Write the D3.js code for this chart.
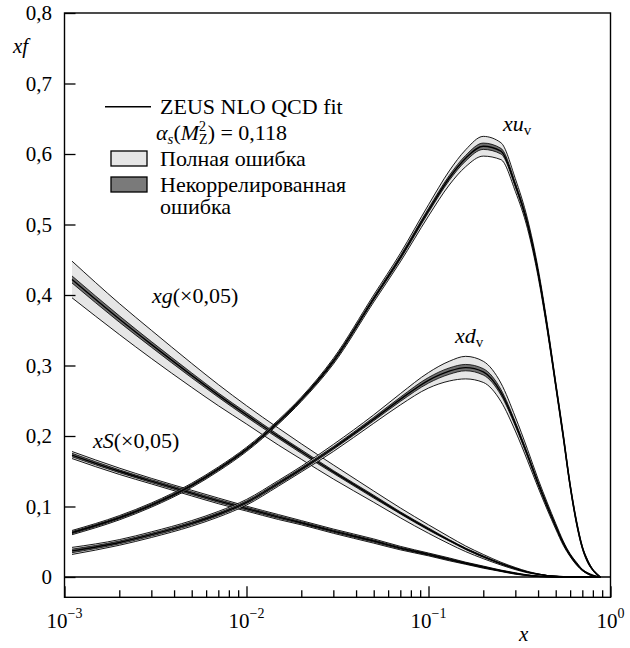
<!DOCTYPE html>
<html>
<head>
<meta charset="utf-8">
<script src="https://cdn.jsdelivr.net/npm/d3@7"></script>
<style>
  body { margin: 0; background: #fff; }
</style>
</head>
<body>
<div id="chart"></div>
<script>
// x grid shared by all distributions
var xGrid = [0.0011, 0.002, 0.003, 0.005, 0.007, 0.01, 0.015, 0.02, 0.03, 0.05, 0.07, 0.1, 0.13, 0.16, 0.2,
             0.25, 0.3, 0.35, 0.4, 0.45, 0.5, 0.55, 0.6, 0.65, 0.7, 0.75, 0.8, 0.85, 0.88];

// xu_v : central value, total error, uncorrelated error
var xuvMid = [0.063, 0.084, 0.102, 0.130, 0.153, 0.181, 0.220, 0.252, 0.306, 0.395, 0.453, 0.520, 0.566, 0.594, 0.611,
              0.604, 0.556, 0.501, 0.432, 0.353, 0.273, 0.200, 0.130, 0.078, 0.042, 0.022, 0.010, 0.003, 0];
var xuvTot = [0.003, 0.003, 0.003, 0.003, 0.003, 0.003, 0.003, 0.003, 0.004, 0.005, 0.006, 0.008, 0.010, 0.012, 0.014,
              0.012, 0.009, 0.007, 0.006, 0.005, 0.004, 0.004, 0.003, 0.003, 0.002, 0.002, 0.001, 0.001, 0];
var xuvUnc = [0.0015, 0.0015, 0.0015, 0.0015, 0.0015, 0.0015, 0.0015, 0.0015, 0.002, 0.002, 0.0025, 0.003, 0.0035, 0.004, 0.0045,
              0.004, 0.003, 0.0025, 0.002, 0.002, 0.0015, 0.0015, 0.0015, 0.001, 0.001, 0.001, 0.0005, 0.0005, 0];

// xd_v
var xdvMid = [0.037, 0.049, 0.060, 0.076, 0.089, 0.106, 0.133, 0.153, 0.183, 0.224, 0.252, 0.279, 0.292, 0.297, 0.291,
              0.262, 0.217, 0.173, 0.133, 0.100, 0.072, 0.048, 0.031, 0.019, 0.010, 0.005, 0.002, 0.0005, 0];
var xdvTot = [0.005, 0.004, 0.004, 0.004, 0.004, 0.004, 0.004, 0.004, 0.005, 0.006, 0.008, 0.011, 0.014, 0.016, 0.015,
              0.013, 0.010, 0.008, 0.006, 0.005, 0.004, 0.003, 0.002, 0.002, 0.001, 0.001, 0.001, 0, 0];
var xdvUnc = [0.0025, 0.002, 0.002, 0.002, 0.002, 0.002, 0.002, 0.002, 0.002, 0.0025, 0.003, 0.004, 0.0045, 0.0045, 0.0045,
              0.004, 0.003, 0.0025, 0.002, 0.002, 0.0015, 0.001, 0.001, 0.001, 0.0005, 0.0005, 0, 0, 0];

// xg (x0.05)
var xgMid = [0.422, 0.366, 0.330, 0.286, 0.258, 0.230, 0.199, 0.178, 0.149, 0.114, 0.091, 0.068, 0.052, 0.040, 0.029,
             0.019, 0.012, 0.007, 0.004, 0.002, 0.001, 0.0003, 0, 0, 0, 0, 0, 0, 0];
var xgTot = [0.026, 0.022, 0.020, 0.017, 0.015, 0.013, 0.012, 0.011, 0.010, 0.008, 0.007, 0.006, 0.005, 0.004, 0.003,
             0.002, 0.0015, 0.001, 0.0005, 0, 0, 0, 0, 0, 0, 0, 0, 0, 0];
var xgUnc = [0.005, 0.0045, 0.004, 0.0035, 0.003, 0.003, 0.0025, 0.0025, 0.002, 0.002, 0.0015, 0.0015, 0.001, 0.001, 0.001,
             0.0005, 0.0005, 0, 0, 0, 0, 0, 0, 0, 0, 0, 0, 0, 0];

// xS (x0.05)
var xSMid = [0.173, 0.150, 0.136, 0.119, 0.108, 0.097, 0.085, 0.077, 0.065, 0.051, 0.041, 0.032, 0.025, 0.0195, 0.014,
             0.0088, 0.005, 0.0025, 0.001, 0.0004, 0.0001, 0, 0, 0, 0, 0, 0, 0, 0];
var xSTot = [0.005, 0.0045, 0.004, 0.004, 0.004, 0.0035, 0.0035, 0.003, 0.003, 0.003, 0.0025, 0.002, 0.002, 0.0015, 0.0015,
             0.001, 0.001, 0.0005, 0.0005, 0, 0, 0, 0, 0, 0, 0, 0, 0, 0];
var xSUnc = [0.0025, 0.002, 0.002, 0.002, 0.002, 0.0018, 0.0018, 0.0015, 0.0015, 0.0015, 0.0012, 0.001, 0.001, 0.0008, 0.0008,
             0.0005, 0.0005, 0, 0, 0, 0, 0, 0, 0, 0, 0, 0, 0, 0];

var yTicks = [0, 0.1, 0.2, 0.3, 0.4, 0.5, 0.6, 0.7, 0.8];
var xMajor = [1e-3, 1e-2, 1e-1, 1];
var xMajorExp = ["\u22123", "\u22122", "\u22121", "0"];

var width = 630, height = 648;
var serif = "Liberation Serif";

var svg = d3.select("#chart").append("svg")
    .attr("width", width)
    .attr("height", height);

// scales
var x = d3.scaleLog().domain([1e-3, 1]).range([64.5, 610.5]);
var y = d3.scaleLinear().domain([-0.0288, 0.8]).range([597.3, 13]);

function build(mid, tot, unc) {
  return xGrid.map(function(d, i) { return {x: d, m: mid[i], t: tot[i], u: unc[i]}; });
}

var curve = d3.curveMonotoneX;
function lineOf(f) {
  return d3.line().curve(curve).x(function(d) { return x(d.x); }).y(function(d) { return y(f(d)); });
}
var totArea = d3.area().curve(curve)
    .x(function(d) { return x(d.x); })
    .y0(function(d) { return y(d.m - d.t); })
    .y1(function(d) { return y(d.m + d.t); });
var uncArea = d3.area().curve(curve)
    .x(function(d) { return x(d.x); })
    .y0(function(d) { return y(d.m - d.u); })
    .y1(function(d) { return y(d.m + d.u); });

var plot = svg.append("g");

function drawBand(data) {
  var g = plot.append("g");
  g.append("path").datum(data).attr("d", totArea).attr("fill", "#e6e6e6");
  g.append("path").datum(data).attr("d", uncArea).attr("fill", "#707070");
  var edges = [
    [function(d) { return d.m + d.t; }, 0.9],
    [function(d) { return d.m - d.t; }, 0.9],
    [function(d) { return d.m + d.u; }, 0.8],
    [function(d) { return d.m - d.u; }, 0.8],
    [function(d) { return d.m; }, 1.4]
  ];
  edges.forEach(function(e) {
    g.append("path").datum(data)
      .attr("d", lineOf(e[0]))
      .attr("fill", "none")
      .attr("stroke", "#000")
      .attr("stroke-width", e[1]);
  });
}

// zero line
svg.append("line")
    .attr("x1", x(1e-3)).attr("x2", x(1))
    .attr("y1", y(0)).attr("y2", y(0))
    .attr("stroke", "#000").attr("stroke-width", 1.3);

drawBand(build(xgMid, xgTot, xgUnc));
drawBand(build(xSMid, xSTot, xSUnc));
drawBand(build(xdvMid, xdvTot, xdvUnc));
drawBand(build(xuvMid, xuvTot, xuvUnc));

// frame
svg.append("rect")
    .attr("x", x(1e-3)).attr("y", y(0.8))
    .attr("width", x(1) - x(1e-3))
    .attr("height", y(-0.0288) - y(0.8))
    .attr("fill", "none").attr("stroke", "#000").attr("stroke-width", 1.4);

// x minor / major ticks (pointing inward)
var xMinor = [];
[1e-3, 1e-2, 1e-1].forEach(function(dec) {
  for (var k = 2; k <= 9; k++) xMinor.push(dec * k);
});

var gxMinor = svg.append("g")
    .attr("transform", "translate(0," + y(-0.0288) + ")")
    .call(d3.axisBottom(x).tickValues(xMinor).tickSize(-7).tickFormat(""));
var gxMajor = svg.append("g")
    .attr("transform", "translate(0," + y(-0.0288) + ")")
    .call(d3.axisBottom(x).tickValues(xMajor).tickSize(-11).tickFormat(""));
[gxMinor, gxMajor].forEach(function(g) {
  g.select(".domain").remove();
  g.selectAll("line").attr("stroke-width", 1.3);
});

// x tick labels 10^n
svg.selectAll(".xlab")
    .data(xMajor)
    .enter()
    .append("text")
    .attr("class", "xlab")
    .attr("x", function(d) { return x(d); })
    .attr("y", 628)
    .attr("text-anchor", "middle")
    .style("font-family", serif)
    .style("font-size", "21px")
    .each(function(d, i) {
      var t = d3.select(this);
      t.append("tspan").text("10");
      t.append("tspan").attr("dy", -10).style("font-size", "14px").text(xMajorExp[i]);
    });

// y axis
var gy = svg.append("g")
    .attr("transform", "translate(" + x(1e-3) + ",0)")
    .call(d3.axisLeft(y).tickValues(yTicks).tickSize(-11).tickPadding(12.5)
      .tickFormat(function(d) { return d === 0 ? "0" : d3.format(".1f")(d).replace(".", ","); }));
gy.select(".domain").remove();
gy.selectAll("line").attr("stroke-width", 1.3);
gy.selectAll("text")
    .style("font-family", serif)
    .style("font-size", "21px")
    .attr("fill", "#000");

// axis titles
svg.append("text").attr("x", 13).attr("y", 53)
    .style("font-family", serif).style("font-size", "21px")
    .style("font-style", "italic").text("xf");
svg.append("text").attr("x", 519).attr("y", 641)
    .style("font-family", serif).style("font-size", "21px")
    .style("font-style", "italic").text("x");

// curve labels
function subLabel(px, py, main, sub) {
  var t = svg.append("text").attr("x", px).attr("y", py)
      .style("font-family", serif).style("font-size", "22px");
  t.append("tspan").style("font-style", "italic").text(main);
  t.append("tspan").attr("dy", 4).style("font-size", "15px").text(sub);
}
subLabel(503, 131, "xu", "v");
subLabel(455, 343, "xd", "v");

function scaleLabel(px, py, main) {
  var t = svg.append("text").attr("x", px).attr("y", py)
      .style("font-family", serif).style("font-size", "22px");
  t.append("tspan").style("font-style", "italic").text(main);
  t.append("tspan").text("(\u00d70,05)");
}
scaleLabel(152, 303, "xg");
scaleLabel(93, 448, "xS");

// legend
var legend = svg.append("g");
function legText(px, py) {
  return legend.append("text").attr("x", px).attr("y", py)
      .style("font-family", serif).style("font-size", "22px");
}
legend.append("line")
    .attr("x1", 105).attr("x2", 151)
    .attr("y1", 106.7).attr("y2", 106.7)
    .attr("stroke", "#000").attr("stroke-width", 1.6);
legText(160, 114).text("ZEUS NLO QCD fit");

var alpha = legText(156, 140);
alpha.append("tspan").style("font-style", "italic").text("\u03b1");
alpha.append("tspan").style("font-style", "italic").style("font-size", "15px").attr("dy", 4).text("s");
alpha.append("tspan").attr("dy", -4).text("(");
alpha.append("tspan").style("font-style", "italic").text("M");
alpha.append("tspan").style("font-size", "14px").attr("dy", -9).text("2");
alpha.append("tspan").style("font-size", "14px").attr("dx", -7).attr("dy", 13).text("Z");
alpha.append("tspan").attr("dy", -4).text(") = 0,118");

legend.append("rect")
    .attr("x", 111).attr("y", 151).attr("width", 36).attr("height", 15)
    .attr("fill", "#e6e6e6").attr("stroke", "#000").attr("stroke-width", 1.3);
legText(160, 166).text("Полная ошибка");

legend.append("rect")
    .attr("x", 111).attr("y", 177).attr("width", 36).attr("height", 15)
    .attr("fill", "#7a7a7a").attr("stroke", "#000").attr("stroke-width", 1.3);
legText(160, 192).text("Некоррелированная");
legText(160, 214).text("ошибка");
</script>
</body>
</html>
